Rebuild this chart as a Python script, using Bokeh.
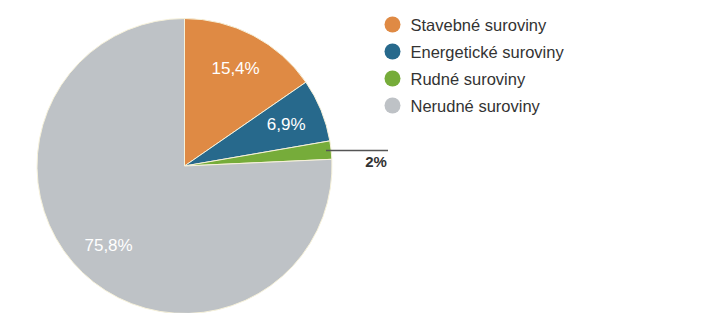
import math
from bokeh.plotting import figure
from bokeh.models import Range1d, ColumnDataSource
from bokeh.core.properties import value
from bokeh.embed import file_html
from bokeh.resources import INLINE

categories = ["Stavebné suroviny", "Energetické suroviny", "Rudné suroviny", "Nerudné suroviny"]
values = [15.4, 6.9, 2.0, 75.8]
labels = ["15,4%", "6,9%", "2%", "75,8%"]
colors = ["#DF8A44", "#27698C", "#76AC3A", "#BEC2C6"]

W, H = 689, 313
FONT = "Liberation Sans"

p = figure(width=W, height=H, output_backend="svg", toolbar_location=None,
           x_range=Range1d(0, W), y_range=Range1d(329 - H, 329),
           min_border=0, outline_line_color=None, background_fill_color="white",
           border_fill_color="white")
p.axis.visible = False
p.grid.visible = False

def Y(py):
    return 329 - py

cx, cy, R = 184.0, Y(165.5), 147.5
total = sum(values)

starts, ends, mids = [], [], []
acc = 0.0
for v in values:
    a0 = math.pi / 2 - 2 * math.pi * acc / total
    acc += v
    a1 = math.pi / 2 - 2 * math.pi * acc / total
    starts.append(a0)
    ends.append(a1)
    mids.append((a0 + a1) / 2)

src = ColumnDataSource(dict(start=starts, end=ends, color=colors))
p.wedge(x=cx, y=cy, radius=R, start_angle="start", end_angle="end",
        direction="clock", fill_color="color", line_color="#F6F1DA",
        line_width=1, source=src)

# inside labels
ix, iy, it = [], [], []
for v, m, lab in zip(values, mids, labels):
    if v >= 5:
        ix.append(cx + 0.745 * R * math.cos(m))
        iy.append(cy + 0.745 * R * math.sin(m))
        it.append(lab)
p.text(x=ix, y=iy, text=it, text_color="white", text_font=value(FONT),
       text_font_size="17px", text_align="center", text_baseline="middle")

# outside labels with leader
for v, m, lab in zip(values, mids, labels):
    if v < 5:
        x0 = cx + 0.965 * R * math.cos(m)
        y0 = cy + 0.965 * R * math.sin(m)
        x1 = cx + R + 56
        p.line(x=[x0, x1], y=[y0, y0], line_color="#555555", line_width=1.5)
        p.text(x=[x1 - 12], y=[y0 - 11], text=[lab], text_color="#333333",
               text_font=value(FONT), text_font_size="15px",
               text_font_style="bold", text_align="center", text_baseline="middle")

# legend
lx = [392] * len(categories)
ly = [Y(24 + 27 * i) for i in range(len(categories))]
p.scatter(x=lx, y=ly, size=16, marker="circle", fill_color=colors, line_color=None)
p.text(x=[410] * len(categories), y=ly, text=categories, text_color="#333333",
       text_font=value(FONT), text_font_size="16.5px", text_align="left",
       text_baseline="middle")

open("out.html", "w").write(file_html(p, INLINE))
